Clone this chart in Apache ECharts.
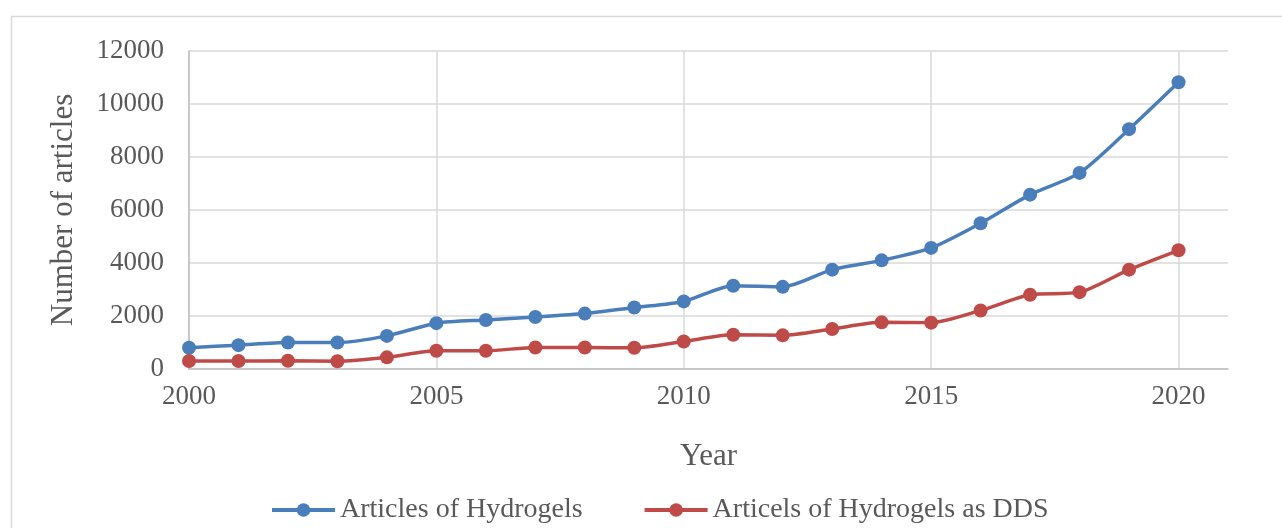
<!DOCTYPE html>
<html>
<head>
<meta charset="utf-8">
<script src="https://cdn.jsdelivr.net/npm/echarts@6/dist/echarts.min.js"></script>
<style>html,body{margin:0;padding:0;background:#fff}#c{width:1282px;height:528px}</style>
</head>
<body>
<div id="c"></div>
<script>
const years = [2000,2001,2002,2003,2004,2005,2006,2007,2008,2009,2010,2011,2012,2013,2014,2015,2016,2017,2018,2019,2020];
const hydrogels = [800,900,1000,1000,1250,1730,1850,1960,2090,2320,2550,3140,3100,3750,4100,4570,5500,6580,7400,9050,10820];
const hydrogelsDDS = [300,300,310,290,440,690,690,810,810,800,1040,1290,1270,1510,1760,1750,2210,2800,2900,3750,4480];
const xTicks = {min: 2000, max: 2021, interval: 5};
const yTicks = {min: 0, max: 12000, interval: 2000};
const seriesNames = ['Articles of Hydrogels', 'Articels of Hydrogels as DDS'];

const font = 'Liberation Serif';
const textColor = '#595959';
const chart = echarts.init(document.getElementById('c'), null, {renderer: 'canvas'});
chart.setOption({
  animation: false,
  backgroundColor: '#fff',
  graphic: [{
    type: 'rect', silent: true, z: -1,
    shape: {x: 11.5, y: 16.5, width: 1400, height: 700},
    style: {fill: 'none', stroke: '#d9d9d9', lineWidth: 1.5}
  }],
  grid: {left: 189, right: 54, top: 51, bottom: 159, containLabel: false},
  legend: {
    left: 270, top: 496, padding: 0,
    itemWidth: 63, itemHeight: 17, itemGap: 60,
    lineStyle: {width: 4},
    textStyle: {fontFamily: font, fontSize: 28, color: textColor},
    data: seriesNames
  },
  xAxis: {
    type: 'value', min: xTicks.min, max: xTicks.max, interval: xTicks.interval,
    name: 'Year', nameLocation: 'middle', nameGap: 72,
    nameTextStyle: {fontFamily: font, fontSize: 31, color: textColor},
    axisLine: {show: true, lineStyle: {color: '#bfbfbf', width: 1.5}},
    axisTick: {show: false},
    axisLabel: {fontFamily: font, fontSize: 27, color: textColor, margin: 14, showMaxLabel: false,
      formatter: v => String(v)},
    splitLine: {show: true, showMaxLine: false, lineStyle: {color: '#d9d9d9', width: 1.5}}
  },
  yAxis: {
    type: 'value', min: yTicks.min, max: yTicks.max, interval: yTicks.interval,
    name: 'Number of articles', nameLocation: 'middle', nameGap: 110, nameRotate: 90,
    nameTextStyle: {fontFamily: font, fontSize: 31, color: textColor},
    axisLine: {show: true, lineStyle: {color: '#bfbfbf', width: 1.5}},
    axisTick: {show: false},
    axisLabel: {fontFamily: font, fontSize: 27, color: textColor, margin: 25,
      formatter: v => String(v)},
    splitLine: {show: true, lineStyle: {color: '#d9d9d9', width: 1.5}}
  },
  series: [
    {
      name: seriesNames[0], type: 'line', smooth: 0.25,
      data: years.map((y, i) => [y, hydrogels[i]]),
      symbol: 'circle', symbolSize: 14,
      itemStyle: {color: '#4a7ebb'},
      lineStyle: {color: '#4a7ebb', width: 3.5}
    },
    {
      name: seriesNames[1], type: 'line', smooth: 0.25,
      data: years.map((y, i) => [y, hydrogelsDDS[i]]),
      symbol: 'circle', symbolSize: 14,
      itemStyle: {color: '#be4b48'},
      lineStyle: {color: '#be4b48', width: 3.5}
    }
  ]
});
</script>
</body>
</html>
